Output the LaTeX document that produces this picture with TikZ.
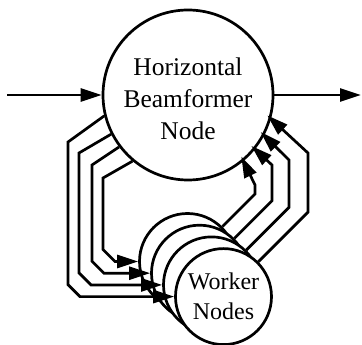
\documentclass[tikz,border=0pt]{standalone}
\usepackage{fontspec}
\setmainfont{Liberation Serif}
\usetikzlibrary{arrows.meta}

\begin{document}
\begin{tikzpicture}[x=1pt,y=-1pt,line width=2.7pt,
  beam/.style={circle,draw,fill=white,minimum size=170pt,inner sep=0pt,align=center,text height=90pt,font=\fontsize{25.5}{32}\selectfont},
  worker/.style={circle,draw,fill=white,minimum size=96pt,inner sep=0pt,align=center,font=\fontsize{24}{30}\selectfont},
  link/.style={-{Triangle[length=21pt,width=13pt]}}]
\useasboundingbox (0,0) rectangle (362,345);
\node[beam] (hbf) at (188,95) {Horizontal\\Beamformer\\Node};
\node[worker] (w1) at (187.5,261.5) {};
\node[worker] (w2) at (199.5,273.2) {};
\node[worker] (w3) at (211.5,284.9) {};
\node[worker] (w4) at (223.5,296.6) {Worker\\Nodes};
\coordinate (in) at (7,95);
\coordinate (out) at (361,95);
\draw[link] (in) -- (hbf);
\draw[link] (hbf) -- (out);
% out to the workers
\draw[link] (hbf.194) -- (68,142) -- (68,284.6) -- (80,296.6) -- (w4.west);
\draw[link] (hbf.207) -- (79,153) -- (79,272.9) -- (91,284.9) -- (w3.west);
\draw[link] (hbf.217) -- (92,165) -- (92,261.2) -- (104,273.2) -- (w2.west);
\draw[link] (hbf.230) -- (103,178) -- (103,249.5) -- (115,261.5) -- (w1.west);
% back from the workers
\draw[link,shorten >=-5pt] (w1.45) -- (255,194) -- (255,185) -- (hbf.-50);
\draw[link,shorten >=-5pt] (w2.45) -- (272,200.7) -- (272,165) -- (hbf.-39);
\draw[link,shorten >=-5pt] (w3.45) -- (289,207.4) -- (289,160) -- (hbf.-28);
\draw[link,shorten >=-5pt] (w4.45) -- (308,212.1) -- (308,153) -- (hbf.-16);
\end{tikzpicture}
\end{document}
